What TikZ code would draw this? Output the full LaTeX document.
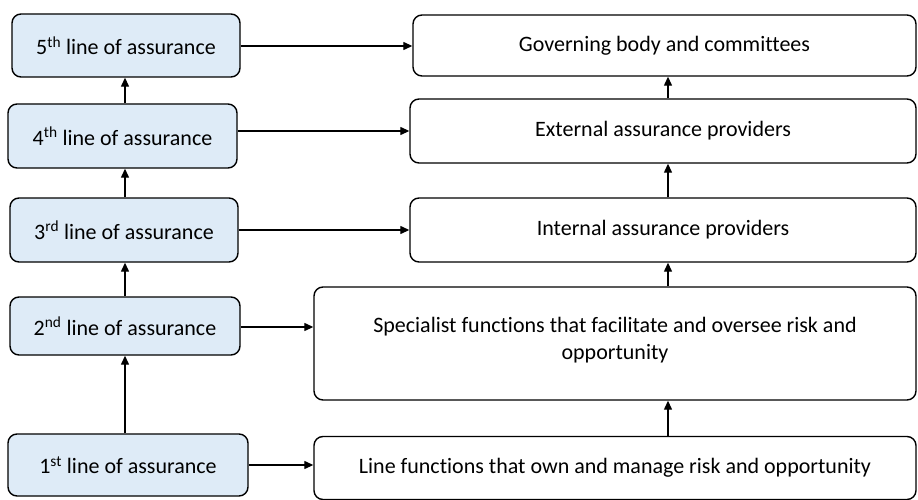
\documentclass[tikz,border=0pt]{standalone}
\usepackage{fontspec}
\setmainfont[Ligatures={NoCommon}]{Carlito}
\usetikzlibrary{arrows.meta}
\definecolor{lightblue}{HTML}{DEEBF7}
\begin{document}
\begin{tikzpicture}[x=1pt,y=-1pt,
  box/.style={draw=black,line width=1.4pt,rounded corners=9pt,inner sep=0pt,align=center,font=\fontsize{22}{27}\selectfont},
  lbox/.style={box,fill=lightblue},
  rbox/.style={box,fill=white},
  arr/.style={line width=1.3pt,-{Triangle[length=9pt,width=8pt]}}]
\useasboundingbox (0,0) rectangle (918,500);
% left column
\node[lbox,minimum width=228pt,minimum height=63pt] (n5) at (126,45.5) {5\textsuperscript{th} line of assurance};
\node[lbox,minimum width=229pt,minimum height=64pt] (n4) at (122.5,136) {4\textsuperscript{th} line of assurance};
\node[lbox,minimum width=228pt,minimum height=64pt] (n3) at (124,230) {3\textsuperscript{rd} line of assurance};
\node[lbox,minimum width=230pt,minimum height=58pt] (n2) at (125,326) {2\textsuperscript{nd} line of assurance};
\node[lbox,minimum width=240pt,minimum height=62pt] (n1) at (128,465) {1\textsuperscript{st} line of assurance};
% right column
\node[rbox,minimum width=503pt,minimum height=61pt] (gov) at (664.5,45.5) {Governing body and committees};
\node[rbox,minimum width=506pt,minimum height=64pt] (ext) at (663,131) {External assurance providers};
\node[rbox,minimum width=506pt,minimum height=64pt] (int) at (663,230) {Internal assurance providers};
\node[rbox,minimum width=602pt,minimum height=113pt] (spec) at (615,343.5) {Specialist functions that facilitate and oversee risk and\\opportunity\\[-17pt]};
\node[rbox,minimum width=602pt,minimum height=63pt] (line) at (615,468) {Line functions that own and manage risk and opportunity};
% column coordinates
\coordinate (cl) at (125,0);
\coordinate (cr) at (668,0);
% left vertical arrows
\draw[arr] (n1.north -| cl) -- (n2.south -| cl);
\draw[arr] (n2.north -| cl) -- (n3.south -| cl);
\draw[arr] (n3.north -| cl) -- (n4.south -| cl);
\draw[arr] (n4.north -| cl) -- (n5.south -| cl);
% right vertical arrows
\draw[arr] (line.north -| cr) -- (spec.south -| cr);
\draw[arr] (spec.north -| cr) -- (int.south -| cr);
\draw[arr] (int.north -| cr) -- (ext.south -| cr);
\draw[arr] (ext.north -| cr) -- (gov.south -| cr);
% horizontal arrows
\draw[arr] ([yshift=-0.5pt]n5.east) -- ([yshift=-0.5pt]n5.east -| gov.west);
\draw[arr] (ext.west -| n4.east) -- (ext.west);
\draw[arr] (int.west -| n3.east) -- (int.west);
\draw[arr] ([yshift=-1pt]n2.east) -- ([yshift=-1pt]n2.east -| spec.west);
\draw[arr] (n1.east) -- (n1.east -| line.west);
\end{tikzpicture}
\end{document}
